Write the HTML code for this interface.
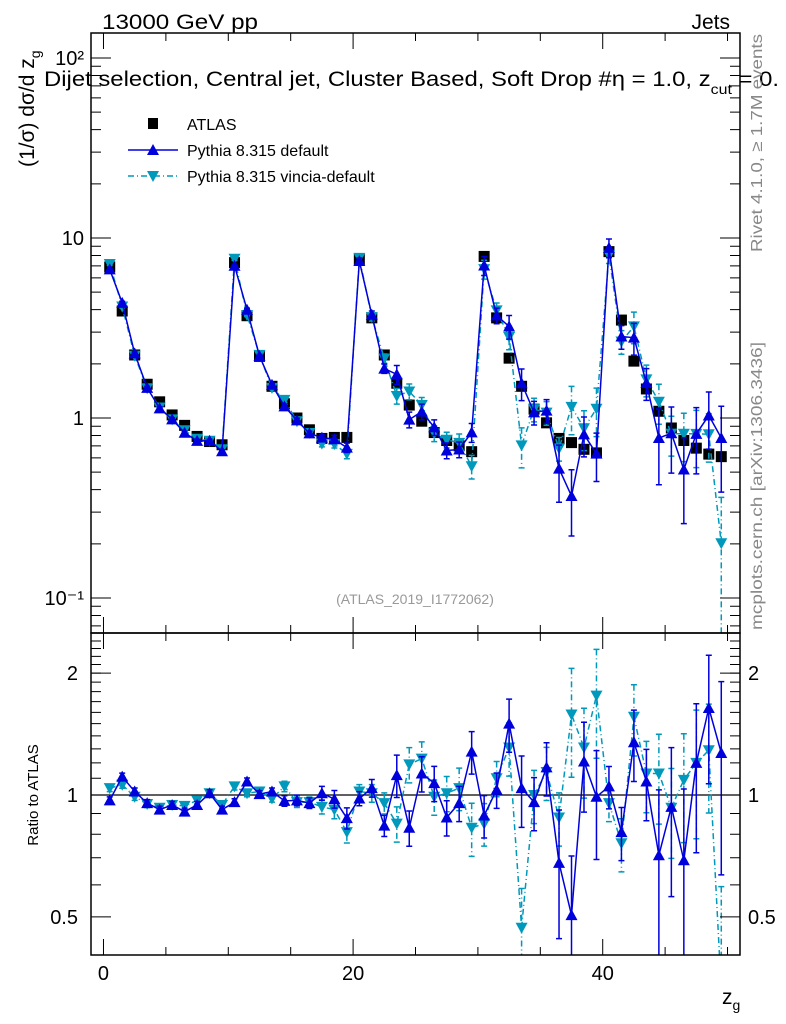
<!DOCTYPE html>
<html><head><meta charset="utf-8"><style>
html,body{margin:0;padding:0;background:#fff;width:786px;height:1024px;overflow:hidden;}
svg{display:block;font-family:"Liberation Sans",sans-serif;overflow:hidden;}
</style></head><body>
<svg id="chart" width="786" height="1024" viewBox="0 0 786 1024" xmlns="http://www.w3.org/2000/svg">
<g id="marks"></g>
<g id="axes"></g>
<text x="102" y="29" font-size="21" textLength="156" lengthAdjust="spacingAndGlyphs">13000 GeV pp</text>
<text x="730" y="29" font-size="21" text-anchor="end">Jets</text>
<text x="44" y="86" font-size="21" textLength="735" lengthAdjust="spacingAndGlyphs">Dijet selection, Central jet, Cluster Based, Soft Drop #η = 1.0, z<tspan font-size="14" dy="8">cut</tspan><tspan dy="-8"> = 0.</tspan></text>
<g>
<rect x="148" y="118" width="10" height="11" fill="#000"/>
<text x="187" y="130" font-size="16">ATLAS</text>
<line x1="128" y1="150" x2="178" y2="150" stroke="#0000dd" stroke-width="1.5"/>
<path d="M153,144 L159,155 L147,155 Z" fill="#0000dd"/>
<text x="187" y="156" font-size="16">Pythia 8.315 default</text>
<line x1="128" y1="176" x2="178" y2="176" stroke="#0099bb" stroke-width="1.5" stroke-dasharray="6,3,1,3"/>
<path d="M147,171 L159,171 L153,182 Z" fill="#0099bb"/>
<text x="187" y="182" font-size="16">Pythia 8.315 vincia-default</text>
</g>
<text transform="translate(34,167) rotate(-90)" font-size="21">(1/σ) dσ/d z<tspan font-size="14" dy="6">g</tspan></text>
<text transform="translate(38,795) rotate(-90)" font-size="15" text-anchor="middle">Ratio to ATLAS</text>
<text transform="translate(762,252) rotate(-90)" font-size="16" fill="#888" textLength="218" lengthAdjust="spacingAndGlyphs">Rivet 4.1.0, ≥ 1.7M events</text>
<text transform="translate(762,630) rotate(-90)" font-size="16" fill="#888" textLength="288" lengthAdjust="spacingAndGlyphs">mcplots.cern.ch [arXiv:1306.3436]</text>
<text x="415" y="604" font-size="14" fill="#999" text-anchor="middle">(ATLAS_2019_I1772062)</text>
<text x="722" y="1004" font-size="21">z<tspan font-size="14" dy="6">g</tspan></text>
</svg>
<script>
const atlas=[6.9,3.93,2.24,1.54,1.23,1.04,0.91,0.79,0.74,0.71,7.3,3.7,2.2,1.5,1.2,1.0,0.86,0.77,0.78,0.78,7.6,3.6,2.24,1.56,1.18,0.96,0.83,0.75,0.70,0.65,7.9,3.6,2.15,1.5,1.12,0.94,0.77,0.73,0.67,0.64,8.4,3.5,2.07,1.45,1.09,0.88,0.75,0.68,0.63,0.61];
const ratioDefault=[0.97,1.11,1.02,0.955,0.92,0.945,0.91,0.945,1.01,0.92,0.96,1.08,1.005,1.02,0.967,0.97,0.955,1.01,0.977,0.877,0.98,1.04,0.84,1.12,0.83,1.13,1.07,0.88,0.955,1.28,0.89,1.03,1.5,1.04,0.96,1.17,0.68,0.505,1.21,0.99,1.05,0.81,1.35,1.08,0.71,0.935,0.69,1.2,1.64,1.27];
const ratioVincia=[1.04,1.06,0.99,0.95,0.93,0.945,0.94,0.97,1.01,0.945,1.05,1.01,1.02,0.98,1.05,0.96,0.96,0.935,0.92,0.81,1.02,1.01,0.955,0.85,1.19,1.23,0.99,1.01,1.04,0.83,0.85,1.1,1.31,0.47,1.0,1.14,0.88,1.58,1.31,1.76,0.955,0.76,1.56,1.13,1.13,0.93,1.09,1.2,1.29,0.33];
const errDefault=[0.02,0.02,0.02,0.02,0.02,0.02,0.02,0.02,0.02,0.02,0.02,0.02,0.02,0.02,0.03,0.03,0.03,0.04,0.05,0.06,0.04,0.05,0.06,0.12,0.1,0.1,0.1,0.1,0.1,0.12,0.12,0.1,0.15,0.2,0.15,0.15,0.35,0.4,0.25,0.3,0.12,0.15,0.2,0.2,0.45,0.4,0.5,0.4,0.35,0.5];
const errVincia=[0.02,0.02,0.02,0.02,0.02,0.02,0.02,0.02,0.02,0.02,0.02,0.02,0.02,0.02,0.03,0.03,0.03,0.04,0.05,0.06,0.04,0.05,0.06,0.1,0.1,0.1,0.1,0.1,0.12,0.15,0.12,0.1,0.15,0.25,0.15,0.15,0.15,0.3,0.25,0.3,0.1,0.15,0.2,0.2,0.25,0.25,0.3,0.35,0.3,0.8];
const xTicksMajor=[0,20,40];
const mainYTicks=[0.1,1,10,100];
const mainYLabels=["10⁻¹","1","10","10²"];
const ratioYTicks=[0.5,1,2];
const ratioYLabels=["0.5","1","2"];

const NS="http://www.w3.org/2000/svg";
const X0=91,X1=740,MT=33,MB=633,RB=955;
const xs=v=>X0+(v+1)/52*(X1-X0);
const ym=v=>418-180*Math.log10(v);
const yr=v=>795-405*Math.log10(v);
const marks=document.getElementById('marks'),axes=document.getElementById('axes');
function mk(tag,attrs,parent){const e=document.createElementNS(NS,tag);for(const k in attrs)e.setAttribute(k,attrs[k]);(parent||marks).appendChild(e);return e;}

const defs=mk('defs',{},document.getElementById('chart'));
const c1=mk('clipPath',{id:'cm'},defs);mk('rect',{x:X0,y:MT,width:X1-X0,height:MB-MT},c1);
const c2=mk('clipPath',{id:'cr'},defs);mk('rect',{x:X0,y:MB,width:X1-X0,height:RB-MB},c2);
const gm=mk('g',{'clip-path':'url(#cm)'});


const gr=mk('g',{'clip-path':'url(#cr)'});



mk('line',{x1:X0,x2:X1,y1:yr(1),y2:yr(1),stroke:'#000','stroke-width':1.2},gr);

function series(vals,errs,yf,color,dash,up,g,name){
  const pts=vals.map((v,i)=>[xs(i+0.5),yf(v)]);
  const l=mk('polyline',{points:pts.map(p=>p.join(',')).join(' '),fill:'none',stroke:color,'stroke-width':1.5,'stroke-dasharray':dash},g);
  
  
  vals.forEach((v,i)=>{
    const x=xs(i+0.5),e=errs[i];
    const ya=yf(v*(1+e)),yb=yf(Math.max(v*(1-e),1e-3));
    const eb=mk('path',{d:`M${x},${ya}V${yb}M${x-3},${ya}h6M${x-3},${yb}h6`,stroke:color,'stroke-width':1.5,fill:'none','stroke-dasharray':dash},g);
    
    
    const y=yf(v);
    const d=up?`M${x},${y-6}L${x+6},${y+5}L${x-6},${y+5}Z`:`M${x-6},${y-5}L${x+6},${y-5}L${x},${y+6}Z`;
    const m=mk('path',{d:d,fill:color},g);
    
    
  });
}
const mainDef=atlas.map((a,i)=>a*ratioDefault[i]);
const mainVin=atlas.map((a,i)=>a*ratioVincia[i]);
atlas.forEach((a,i)=>{
  const r=mk('rect',{x:xs(i+0.5)-5.5,y:ym(a)-5.5,width:11,height:11,fill:'#000'},gm);
  
  
});
series(mainVin,errVincia,ym,'#0099bb','6,3,1,3',false,gm,'vincia');
series(mainDef,errDefault,ym,'#0000dd','',true,gm,'default');
series(ratioVincia,errVincia,yr,'#0099bb','6,3,1,3',false,gr,'vincia-ratio');
series(ratioDefault,errDefault,yr,'#0000dd','',true,gr,'default-ratio');

[[MT,MB],[MB,RB]].forEach(([t,b],k)=>{
  const f=mk('rect',{x:X0,y:t,width:X1-X0,height:b-t,fill:'none',stroke:'#000','stroke-width':1.5},axes);
  
  
  for(let v=0;v<=50;v+=5){
    const x=xs(v),L=xTicksMajor.includes(v)?16:8;
    mk('path',{d:`M${x},${b}v${-L}M${x},${t}v${L}`,stroke:'#000','stroke-width':1},axes);
  }
});
xTicksMajor.forEach(v=>{
  const t=mk('text',{x:xs(v),y:980,'font-size':20,'text-anchor':'middle'},axes);
  t.textContent=v;
  
  
});
for(let dec=-2;dec<=2;dec++){for(let m=1;m<10;m++){
  const v=m*Math.pow(10,dec),y=ym(v);if(y<MT||y>MB)continue;
  const L=m===1?20:10;
  mk('path',{d:`M${X0},${y}h${L}M${X1},${y}h${-L}`,stroke:'#000','stroke-width':1},axes);
}}
mainYTicks.forEach((v,i)=>{
  const t=mk('text',{x:84,y:ym(v)+7,'font-size':20,'text-anchor':'end'},axes);
  t.textContent=mainYLabels[i];
  
  
});
[0.4,0.5,0.6,0.7,0.8,0.9,1,2].forEach(v=>{
  const y=yr(v);if(y<MB||y>RB)return;
  const L=(v===0.5||v===1||v===2)?20:10;
  mk('path',{d:`M${X0},${y}h${L}M${X1},${y}h${-L}`,stroke:'#000','stroke-width':1},axes);
});
for(let v=1.1;v<2.5;v+=0.1){const y=yr(v);if(y<MB)continue;mk('path',{d:`M${X0},${y}h10M${X1},${y}h-10`,stroke:'#000','stroke-width':1},axes);}
ratioYTicks.forEach((v,i)=>{
  const t=mk('text',{x:78,y:yr(v)+7,'font-size':20,'text-anchor':'end'},axes);
  t.textContent=ratioYLabels[i];
  
  
  const t2=mk('text',{x:748,y:yr(v)+7,'font-size':20},axes);
  t2.textContent=ratioYLabels[i];
  
  
});
</script>
</body></html>
